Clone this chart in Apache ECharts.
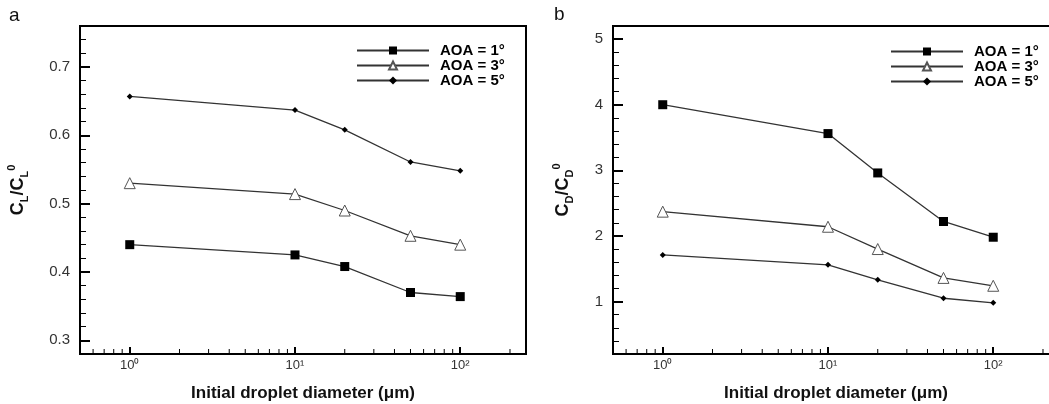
<!DOCTYPE html>
<html>
<head>
<meta charset="utf-8">
<script src="https://cdn.jsdelivr.net/npm/echarts@6/dist/echarts.min.js"></script>
<style>
html,body{margin:0;padding:0;background:#fff;}
#c{width:1049px;height:404px;}
</style>
</head>
<body>
<div id="c"></div>
<script>
// ---- data ----
const diameters = [1, 10, 20, 50, 100];
const seriesNames = ['AOA = 1°', 'AOA = 3°', 'AOA = 5°'];
const clAoa1 = [0.440, 0.425, 0.408, 0.370, 0.364];
const clAoa3 = [0.530, 0.514, 0.490, 0.453, 0.440];
const clAoa5 = [0.657, 0.637, 0.608, 0.561, 0.548];
const cdAoa1 = [4.00, 3.56, 2.96, 2.22, 1.98];
const cdAoa3 = [2.37, 2.14, 1.80, 1.36, 1.24];
const cdAoa5 = [1.71, 1.56, 1.33, 1.05, 0.98];
const xTickLabels = {1: '10⁰', 10: '10¹', 100: '10²'};
const xMinorTicks = [0.6, 0.7, 0.8, 0.9, 2, 3, 4, 5, 6, 7, 8, 9, 20, 30, 40, 50, 60, 70, 80, 90, 200];

const FONT = "'Liberation Sans', Arial, sans-serif";
const pairs = ys => diameters.map((d, i) => [d, ys[i]]);

const markerStyles = [
  {symbol: 'rect', symbolSize: 9, itemStyle: {color: '#000', borderColor: '#000', borderWidth: 0}},
  {symbol: 'triangle', symbolSize: 11, itemStyle: {color: '#fff', borderColor: '#555', borderWidth: 1}},
  {symbol: 'diamond', symbolSize: 6, itemStyle: {color: '#000', borderColor: '#000', borderWidth: 0}}
];

function mkSeries(name, ys, idx, gi) {
  const m = markerStyles[idx];
  return {
    type: 'line', name: name, xAxisIndex: gi, yAxisIndex: gi,
    data: pairs(ys), symbol: m.symbol, symbolSize: m.symbolSize,
    showAllSymbol: true, animation: false,
    lineStyle: {color: '#333', width: 1.3},
    itemStyle: m.itemStyle, z: 3
  };
}

function mkMinorTickSeries(gi, yMin) {
  return {
    type: 'custom', xAxisIndex: gi, yAxisIndex: gi, silent: true, clip: false, z: 4,
    data: xMinorTicks.map(v => [v, yMin]),
    encode: {x: 0, y: 1},
    renderItem: (params, api) => {
      const p = api.coord([api.value(0), api.value(1)]);
      return {type: 'line', shape: {x1: p[0], y1: p[1] - 1, x2: p[0], y2: p[1] - 5},
              style: {stroke: '#000', lineWidth: 1}};
    }
  };
}

function mkX(gi) {
  return {
    type: 'log', logBase: 10, gridIndex: gi, min: 0.5, max: 250,
    axisLine: {show: true, lineStyle: {color: '#000', width: 2}},
    axisTick: {show: true, inside: true, length: 7, lineStyle: {color: '#000', width: 2}},
    minorTick: {show: false},
    splitLine: {show: false}, minorSplitLine: {show: false},
    axisLabel: {
      show: true, margin: 5, color: '#333', fontSize: 13, fontFamily: FONT,
      showMinLabel: false, showMaxLabel: false,
      formatter: v => xTickLabels[Math.round(v * 1000) / 1000] || ''
    },
    name: 'Initial droplet diameter (μm)', nameLocation: 'middle', nameGap: 31,
    nameTextStyle: {fontSize: 17, fontWeight: 'bold', color: '#111', fontFamily: FONT}
  };
}

function mkY(gi, min, max, name, nameGap, dec) {
  return {
    type: 'value', gridIndex: gi, min: min, max: max, splitNumber: 5,
    axisLine: {show: true, lineStyle: {color: '#000', width: 2}},
    axisTick: {show: true, inside: true, length: 10, lineStyle: {color: '#000', width: 2}},
    minorTick: {show: true, splitNumber: 5, length: 6, lineStyle: {color: '#000', width: 1}},
    splitLine: {show: false}, minorSplitLine: {show: false},
    axisLabel: {
      show: true, margin: 10, color: '#333', fontSize: 15, fontFamily: FONT,
      showMinLabel: false, showMaxLabel: false,
      formatter: v => v.toFixed(dec)
    },
    name: name, nameLocation: 'middle', nameRotate: 90, nameGap: nameGap,
    nameTextStyle: {
      fontFamily: FONT, color: '#111',
      rich: {
        a: {fontSize: 18, fontWeight: 'bold', fontFamily: FONT, color: '#111', lineHeight: 24, verticalAlign: 'middle'},
        s: {fontSize: 11, fontWeight: 'bold', fontFamily: FONT, color: '#111', lineHeight: 24, verticalAlign: 'bottom'},
        p: {fontSize: 11, fontWeight: 'bold', fontFamily: FONT, color: '#111', lineHeight: 24, verticalAlign: 'top'}
      }
    }
  };
}

function mkLegend(left, top) {
  return {
    show: true, orient: 'vertical', left: left, top: top, padding: 0,
    itemWidth: 72, itemHeight: 10, itemGap: 0, selectedMode: false,
    data: seriesNames,
    textStyle: {fontSize: 15, fontWeight: 'bold', color: '#000', fontFamily: FONT, padding: [0, 0, 0, 6]}
  };
}

const chart = echarts.init(document.getElementById('c'), null, {renderer: 'canvas'});
chart.setOption({
  animation: false,
  backgroundColor: '#fff',
  textStyle: {fontFamily: FONT},
  grid: [
    {left: 80, top: 26, width: 446, height: 328, show: true, borderColor: '#000', borderWidth: 2, backgroundColor: 'transparent', containLabel: false, outerBoundsMode: 'none'},
    {left: 613, top: 26, width: 446, height: 328, show: true, borderColor: '#000', borderWidth: 2, backgroundColor: 'transparent', containLabel: false, outerBoundsMode: 'none'}
  ],
  xAxis: [mkX(0), mkX(1)],
  yAxis: [
    mkY(0, 0.28, 0.76, '{a|C}{s|L}{a|/C}{s|L}{p|0}', 50, 1),
    mkY(1, 0.2, 5.2, '{a|C}{s|D}{a|/C}{s|D}{p|0}', 38, 0)
  ],
  legend: [mkLegend(356, 43), mkLegend(890, 44)],
  graphic: [
    {type: 'text', left: 9, top: 6, style: {text: 'a', fontSize: 19, fontFamily: FONT, fill: '#111'}},
    {type: 'text', left: 554, top: 5, style: {text: 'b', fontSize: 19, fontFamily: FONT, fill: '#111'}}
  ],
  series: [
    mkSeries(seriesNames[0], clAoa1, 0, 0),
    mkSeries(seriesNames[1], clAoa3, 1, 0),
    mkSeries(seriesNames[2], clAoa5, 2, 0),
    mkSeries(seriesNames[0], cdAoa1, 0, 1),
    mkSeries(seriesNames[1], cdAoa3, 1, 1),
    mkSeries(seriesNames[2], cdAoa5, 2, 1),
    mkMinorTickSeries(0, 0.28),
    mkMinorTickSeries(1, 0.2)
  ]
});
</script>
</body>
</html>
